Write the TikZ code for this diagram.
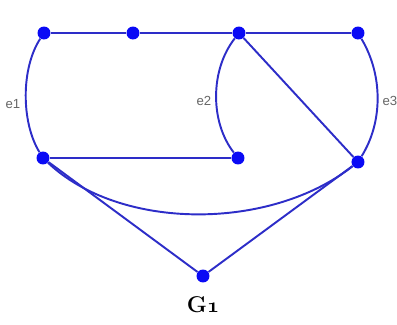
\documentclass[tikz,border=0pt]{standalone}
\usepackage{fontspec}
\newfontfamily\lblfont{Liberation Sans}
\newcommand{\osone}{{\usefont{OML}{cmm}{b}{it}1}}
\begin{document}
\begin{tikzpicture}[x=0.02cm,y=-0.02cm,
  vtx/.style={circle,fill=dotblue,inner sep=0pt,minimum size=0.26cm},
  edg/.style={draw=lineblue,line width=1.1pt},
  elbl/.style={text=gray!80!black,font=\lblfont\fontsize{7.5}{8}\selectfont,inner sep=0pt}]
\definecolor{dotblue}{RGB}{10,10,245}
\definecolor{lineblue}{RGB}{45,45,200}
\useasboundingbox (0,0) rectangle (397,325);
\node[vtx] (a) at (44,33) {};
\node[vtx] (b) at (133,33) {};
\node[vtx] (c) at (239,33) {};
\node[vtx] (d) at (358,33) {};
\node[vtx] (e) at (43,158) {};
\node[vtx] (f) at (238,158) {};
\node[vtx] (g) at (358,162) {};
\node[vtx] (h) at (203,276) {};
\draw[edg] (a) -- (b);
\draw[edg] (b) -- (c);
\draw[edg] (c) -- (d);
\draw[edg] (a) .. controls (21,68) and (21,122) .. (e);
\draw[edg] (c) .. controls (210,70) and (210,122) .. (f);
\draw[edg] (d) .. controls (383,75) and (383,122) .. (g);
\draw[edg] (c) -- (g);
\draw[edg] (e) -- (f);
\draw[edg] (e) .. controls (120,231) and (270,231) .. (g);
\draw[edg] (e) -- (h);
\draw[edg] (g) -- (h);
\node[elbl] (l1) at (13,104) {e1};
\node[elbl] (l2) at (204,101) {e2};
\node[elbl] (l3) at (390,101) {e3};
\node[font=\fontsize{13}{15}\selectfont\bfseries,inner sep=0pt,anchor=base] (t) at (203,313) {G\osone};
\end{tikzpicture}
\end{document}
